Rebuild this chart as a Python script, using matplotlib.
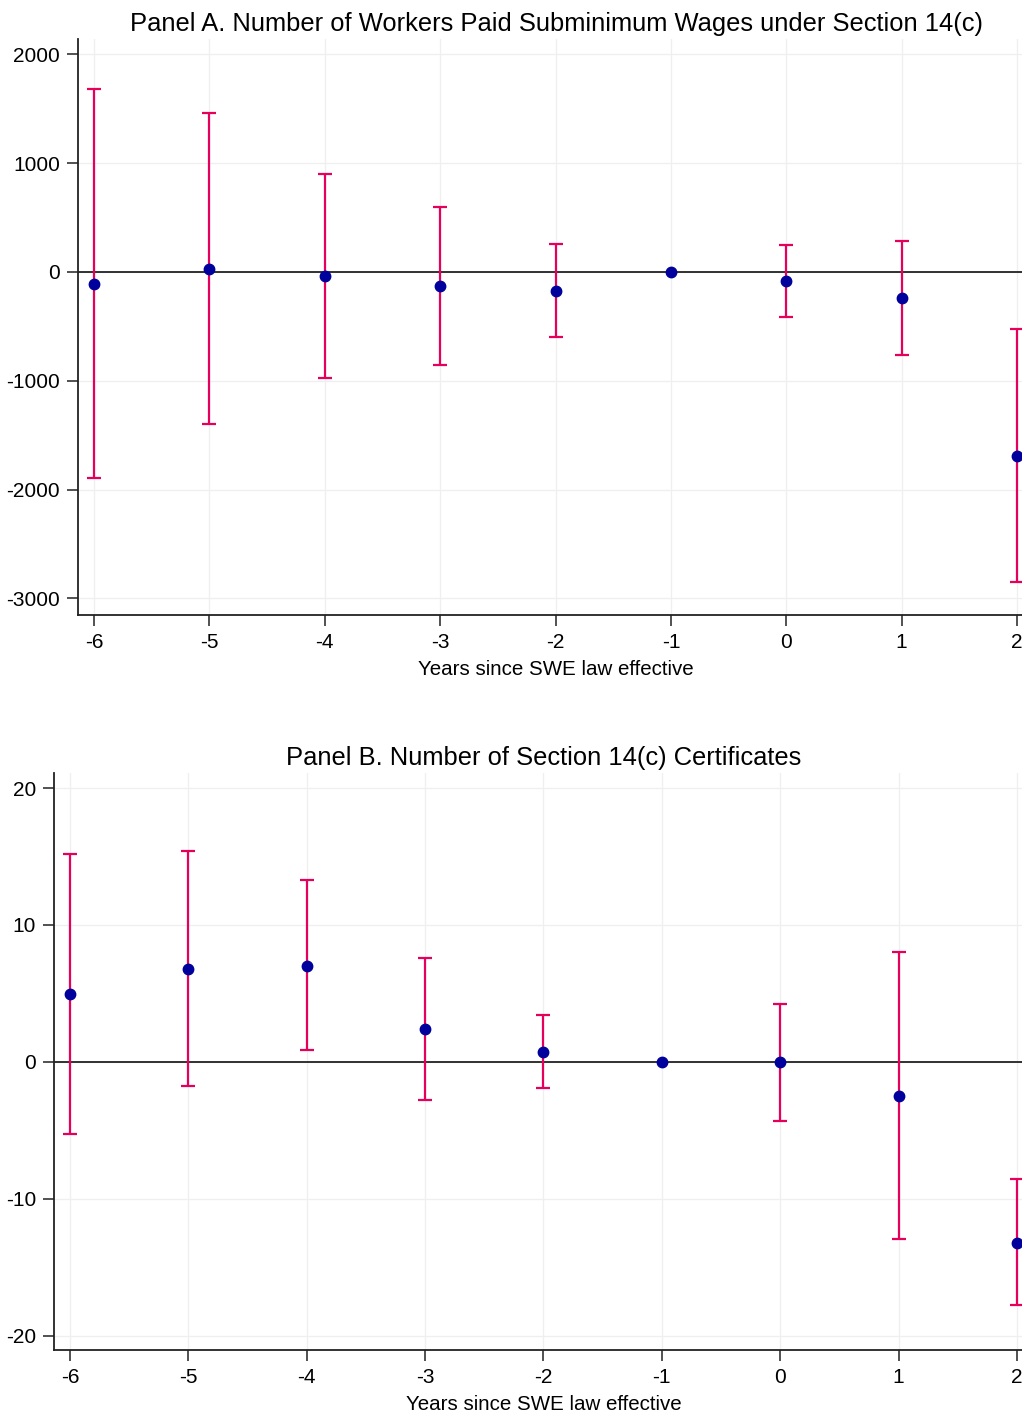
import matplotlib
matplotlib.use("Agg")
import matplotlib.pyplot as plt
import numpy as np

plt.rcParams['font.family'] = ['Liberation Sans', 'DejaVu Sans']
plt.rcParams['axes.unicode_minus'] = False

# event time
years = [-6, -5, -4, -3, -2, -1, 0, 1, 2]

# Panel A: workers paid subminimum wages
a_coef = [-107, 30, -34, -129, -175, 0, -83, -239, -1691]
a_lo = [-1896, -1400, -974, -855, -598, 0, -411, -766, -2849]
a_hi = [1679, 1464, 903, 597, 257, 0, 248, 288, -524]

# Panel B: number of certificates
b_coef = [4.95, 6.78, 7.0, 2.4, 0.7, 0, 0.0, -2.46, -13.2]
b_lo = [-5.3, -1.8, 0.83, -2.8, -1.9, 0, -4.3, -12.96, -17.8]
b_hi = [15.2, 15.4, 13.3, 7.6, 3.4, 0, 4.2, 8.0, -8.55]

PINK = '#E6005C'
NAVY = '#00009C'

fig = plt.figure(figsize=(10.22, 14.14), dpi=100)
axA = fig.add_axes([0.0763, 0.5651, 0.9237, 0.4073])
axB = fig.add_axes([0.0528, 0.0453, 0.9472, 0.4080])


def panel(ax, coef, lo, hi, title, yticks, ylim, xlim, xoff, ylab):
    x = np.array(years)
    c = np.array(coef)
    lo = np.array(lo)
    hi = np.array(hi)
    has = hi != lo
    ax.axhline(0, color='#222222', lw=1.3, zorder=1)
    ax.errorbar(x[has], c[has], yerr=[c[has] - lo[has], hi[has] - c[has]],
                fmt='none', ecolor=PINK, elinewidth=1.6, capsize=5, capthick=1.6, zorder=2)
    ax.plot(x, c, 'o', color=NAVY, ms=7.5, zorder=3)
    ax.set_xlim(xlim)
    ax.set_ylim(ylim)
    ax.set_xticks(years)
    ax.set_yticks(yticks)
    ax.grid(True, color='#efefef', lw=0.9, zorder=0)
    ax.set_axisbelow(True)
    for s in ['top', 'right']:
        ax.spines[s].set_visible(False)
    for s in ['left', 'bottom']:
        ax.spines[s].set_color('#222222')
        ax.spines[s].set_linewidth(1.3)
    ax.tick_params(axis='both', direction='out', length=8, width=1.1, color='#222222',
                   labelsize=15, pad=5)
    ax.set_xlabel('Years since SWE law effective', fontsize=14.8)
    ax.xaxis.set_label_coords(0.5 + xoff, ylab)
    ax.set_title(title, fontsize=18.4, pad=6, x=0.5 + xoff)


panel(axA, a_coef, a_lo, a_hi,
      'Panel A. Number of Workers Paid Subminimum Wages under Section 14(c)',
      [-3000, -2000, -1000, 0, 1000, 2000], (-3153, 2141), (-6.139, 2.043), 0.0064, -0.079)
panel(axB, b_coef, b_lo, b_hi,
      'Panel B. Number of Section 14(c) Certificates',
      [-20, -10, 0, 10, 20], (-21.05, 21.1), (-6.135, 2.042), 0.0062, -0.078)

fig.savefig('out.png', dpi=100)
